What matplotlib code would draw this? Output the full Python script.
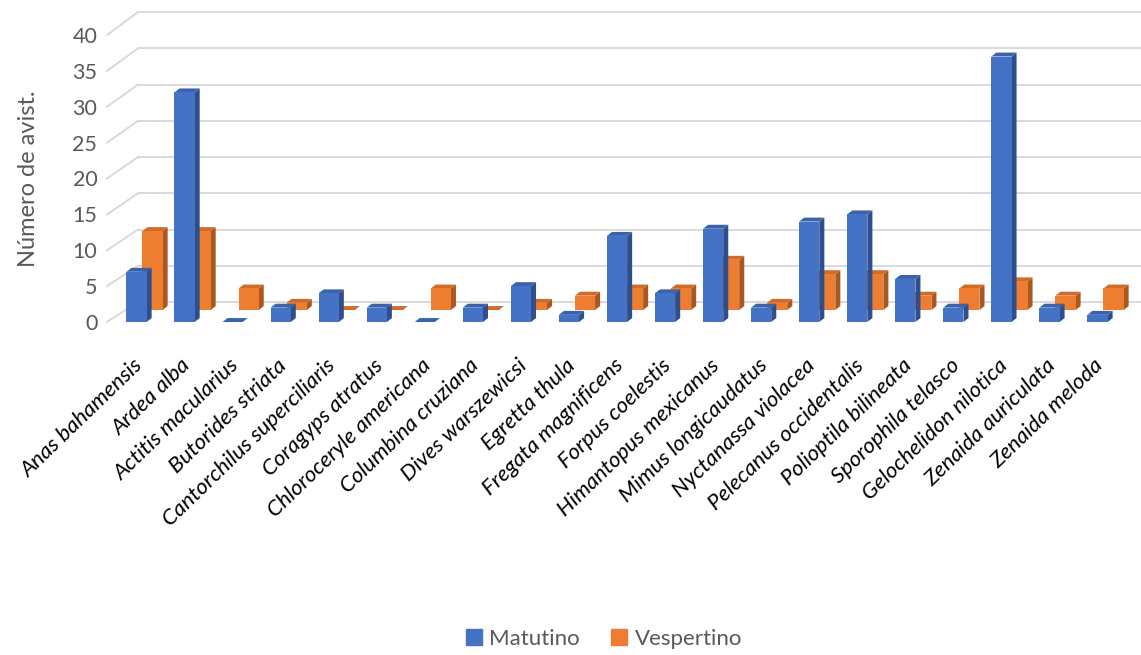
import numpy as np
import matplotlib.pyplot as plt
from matplotlib.collections import PolyCollection
from matplotlib.patches import Patch

# Species (x categories)
SPECIES = [
    "Anas bahamensis", "Ardea alba", "Actitis macularius", "Butorides striata",
    "Cantorchilus superciliaris", "Coragyps atratus", "Chloroceryle americana",
    "Columbina cruziana", "Dives warszewicsi", "Egretta thula",
    "Fregata magnificens", "Forpus coelestis", "Himantopus mexicanus",
    "Mimus longicaudatus", "Nyctanassa violacea", "Pelecanus occidentalis",
    "Polioptila bilineata", "Sporophila telasco", "Gelochelidon nilotica",
    "Zenaida auriculata", "Zenaida meloda",
]
MATUTINO = [7, 32, 0, 2, 4, 2, 0, 2, 5, 1, 12, 4, 13, 2, 14, 15, 6, 2, 37, 2, 1]
VESPERTINO = [11, 11, 3, 1, 0, 0, 3, 0, 1, 2, 3, 3, 7, 1, 5, 5, 2, 3, 4, 2, 3]
YTICKS = [0, 5, 10, 15, 20, 25, 30, 35, 40]

BLUE = ("#4472C4", "#3A63AE", "#2E4F8C")     # front, top, side
ORANGE = ("#ED7D31", "#D06B28", "#A9581F")

W, H = 1141, 655
fig = plt.figure(figsize=(W / 100, H / 100), dpi=100)
ax = fig.add_axes([107 / W, (H - 322) / H, (W - 107) / W, 287 / H])
ax.set_xlim(-0.614, 20.905)
ax.set_ylim(0, 40)
for s in ax.spines.values():
    s.set_visible(False)

# fake 3D geometry (data units)
bar_w = 0.42
side_dx, side_dy = 0.105, 0.55      # bar depth
row_dx, row_dy = 0.333, 1.67        # second series row offset
wall_dx = 0.645                     # back wall offset

# back wall gridlines and floor diagonals
grid_c = "#D9D9D9"
for v in YTICKS:
    back_y = 2.79 + v * 1.01
    ax.plot([-0.614, -0.614 + wall_dx], [v, back_y], color=grid_c, lw=1.4,
            clip_on=False, zorder=0)
    ax.plot([-0.614 + wall_dx, 20.905], [back_y, back_y], color=grid_c, lw=1.4,
            clip_on=False, zorder=0)


def draw_series(xs, vals, base, colors, z):
    front, top, side = colors
    ax.bar(xs, vals, width=bar_w, bottom=base, color=front, zorder=z + 0.2)
    tops, sides = [], []
    for x, v in zip(xs, vals):
        L, R, y0, y1 = x - bar_w / 2, x + bar_w / 2, base, base + v
        tops.append([(L, y1), (R, y1), (R + side_dx, y1 + side_dy), (L + side_dx, y1 + side_dy)])
        sides.append([(R, y0), (R + side_dx, y0 + side_dy), (R + side_dx, y1 + side_dy), (R, y1)])
    ax.add_collection(PolyCollection(sides, facecolors=side, edgecolors="none", zorder=z))
    ax.add_collection(PolyCollection(tops, facecolors=top, edgecolors="none", zorder=z + 0.1))


idx = np.arange(len(SPECIES))
draw_series(idx + row_dx, VESPERTINO, row_dy, ORANGE, 2)
draw_series(idx, MATUTINO, 0, BLUE, 3)

# axes text
ax.set_yticks(YTICKS)
ax.tick_params(axis="y", length=0, pad=7, labelsize=15.5, labelcolor="#595959")
for lab in ax.get_yticklabels():
    lab.set_fontfamily("Lato")
ax.set_xticks(idx - 0.08)
ax.set_xticklabels(SPECIES, rotation=44, ha="right", va="top", rotation_mode="anchor",
                   fontsize=16, fontstyle="italic", fontfamily="Lato", color="black")
ax.tick_params(axis="x", length=0, pad=24)
ax.set_ylabel("Número de avist.", fontsize=17, color="#595959", fontfamily="Lato",
              labelpad=24)

handles = [Patch(color=BLUE[0], label="Matutino"), Patch(color=ORANGE[0], label="Vespertino")]
fig.legend(handles=handles, loc="center", bbox_to_anchor=(604 / W, 1 - 639 / H), ncol=2,
           frameon=False, handlelength=0.7, handleheight=0.7, handletextpad=0.35,
           columnspacing=1.4, prop={"family": "Lato", "size": 16},
           labelcolor="#595959")

fig.savefig("out.png", dpi=100, facecolor="white")
